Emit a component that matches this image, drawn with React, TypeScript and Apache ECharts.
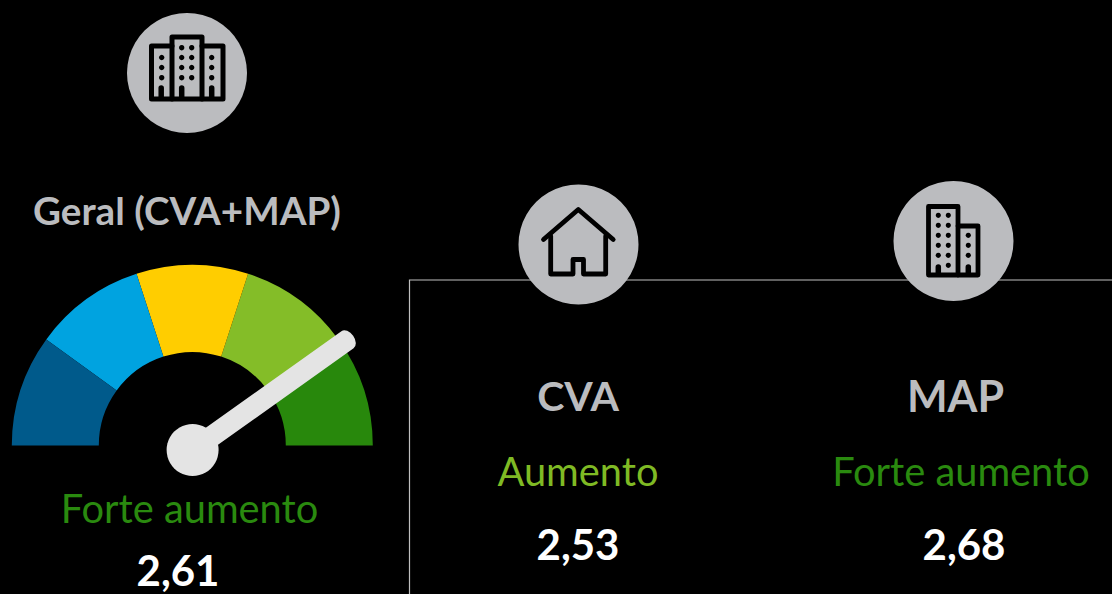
import React, { useEffect, useRef } from "react";
import * as echarts from "echarts";

const bandColors = ["#005A8B", "#00A3E0", "#FFCD00", "#84BD28", "#28880C"];
const gaugeValue = 2.61;
const gaugeMax = 3.25;
const titleGeral = "Geral (CVA+MAP)";
const geralStatus = "Forte aumento";
const geralValue = "2,61";
const panelNames = ["CVA", "MAP"];
const panelStatus = ["Aumento", "Forte aumento"];
const panelValues = ["2,53", "2,68"];

const panelColors = ["#7FBA24", "#2A8A0F"];
const nameX = [578, 955.5];
const nameSize = [41, 43];
const statusX = [578, 961];
const valueX = [578, 964];

const FONT = "Lato, 'Open Sans', sans-serif";
const GREY = "#BBBCBF";

const T = (text: string, x: number, y: number, size: number, fill: string, weight: any = "normal") => ({
  type: "text",
  x,
  y,
  silent: true,
  style: { text, x: 0, y: 0, fontSize: size, lineHeight: size, fontFamily: FONT, fontWeight: weight, fill, textAlign: "center", textVerticalAlign: "middle" },
});
const dot = (cx: number, cy: number, r = 2.7) => ({ type: "circle", shape: { cx, cy, r }, style: { fill: "#000" } });
const poly = (points: number[][], w = 4.6) => ({
  type: "polyline",
  shape: { points },
  style: { stroke: "#000", lineWidth: w, fill: "none", lineJoin: "round", lineCap: "round" },
});
const door = (x: number, top: number, bottom: number) => poly([[x, top], [x, bottom]], 5.5);

const buildingA = [
  poly([[172, 46], [151.5, 46], [151.5, 99], [223, 99], [223, 46], [202, 46]], 5),
  poly([[172, 99], [172, 37], [202, 37], [202, 99]], 5),
  ...[161.7, 211.7].flatMap((x) => [57.5, 67.5, 77.7].map((y) => dot(x, y))),
  ...[181.7, 191.7].flatMap((x) => [47.7, 57.5, 67.5, 77.7].map((y) => dot(x, y))),
  door(161.2, 88, 98),
  door(181.7, 88, 98),
  door(211.7, 88, 98),
];
const house = [
  poly([[543.5, 239.5], [578.3, 209.5], [613.2, 239.5]], 4.8),
  poly([[550.7, 236], [550.7, 274], [573, 274], [573, 259.5], [583.5, 259.5], [583.5, 274], [605.7, 274], [605.7, 236]], 4.8),
];
const buildingB = [
  poly([[928.5, 275], [928.5, 206.5], [958, 206.5], [958, 275], [928.5, 275]], 4.8),
  poly([[958, 226], [978, 226], [978, 275], [958, 275]], 4.8),
  ...[938.3, 948.3].flatMap((x) => [215.3, 225.3, 235.3, 245.3, 255.3].map((y) => dot(x, y, 2.6))),
  ...[235.3, 245.3, 255.3].map((y) => dot(968.3, y, 2.6)),
  dot(948.3, 265.3, 2.6),
  door(938.3, 267, 274),
  door(968.3, 267, 274),
];

export default function App() {
  const ref = useRef<HTMLDivElement>(null);
  useEffect(() => {
    const chart = echarts.init(ref.current!, undefined, { renderer: "svg" });
    const stops = bandColors.map((c, i) => [(i + 1) / bandColors.length, c]);
    chart.setOption({
      animation: false,
      backgroundColor: "#000",
      series: [
        {
          type: "gauge",
          center: [192.3, 445.5],
          radius: 180.5,
          startAngle: 180,
          endAngle: 0,
          min: 0,
          max: gaugeMax,
          axisLine: { lineStyle: { width: 87, color: stops } },
          axisTick: { show: false },
          splitLine: { show: false },
          axisLabel: { show: false },
          pointer: { show: false },
          detail: { show: false },
          title: { show: false },
          data: [{ value: gaugeValue }],
        },
        {
          type: "gauge",
          center: [192.6, 450],
          radius: 197,
          startAngle: 180,
          endAngle: 0,
          min: 0,
          max: gaugeMax,
          axisLine: { show: false },
          axisTick: { show: false },
          splitLine: { show: false },
          axisLabel: { show: false },
          pointer: {
            show: true,
            icon: "path://M0 7A7 7 0 0 1 14 7L14 199L0 199Z",
            length: 197,
            width: 21,
            offsetCenter: [0, 0],
            itemStyle: { color: "#E4E4E4" },
          },
          anchor: { show: true, size: 52, showAbove: true, itemStyle: { color: "#E4E4E4", borderWidth: 0 } },
          detail: { show: false },
          title: { show: false },
          data: [{ value: gaugeValue }],
        },
      ],
      graphic: {
        elements: [
          { type: "polyline", shape: { points: [[1112, 280], [409.5, 280], [409.5, 594]] }, style: { stroke: "#BFBFBF", lineWidth: 1.2, fill: "none" } },
          { type: "circle", shape: { cx: 187, cy: 73, r: 60 }, style: { fill: GREY } },
          { type: "circle", shape: { cx: 578.5, cy: 244.5, r: 60 }, style: { fill: GREY } },
          { type: "circle", shape: { cx: 953.5, cy: 241, r: 60 }, style: { fill: GREY } },
          ...buildingA,
          ...house,
          ...buildingB,
          T(titleGeral, 187, 209.5, 38.6, GREY, "bold"),
          T(geralStatus, 189.5, 507, 39.8, "#2A8A0F"),
          T(geralValue, 178, 570, 42, "#FFFFFF", "bold"),
          ...panelNames.flatMap((name, i) => [
            T(name, nameX[i], 395.5, nameSize[i], GREY, "bold"),
            T(panelStatus[i], statusX[i], 470, 39.8, panelColors[i]),
            T(panelValues[i], valueX[i], 543.5, 42, "#FFFFFF", "bold"),
          ]),
        ],
      },
    });
    return () => chart.dispose();
  }, []);
  return <div ref={ref} style={{ position: "fixed", left: 0, top: 0, width: 1112, height: 594 }} />;
}
